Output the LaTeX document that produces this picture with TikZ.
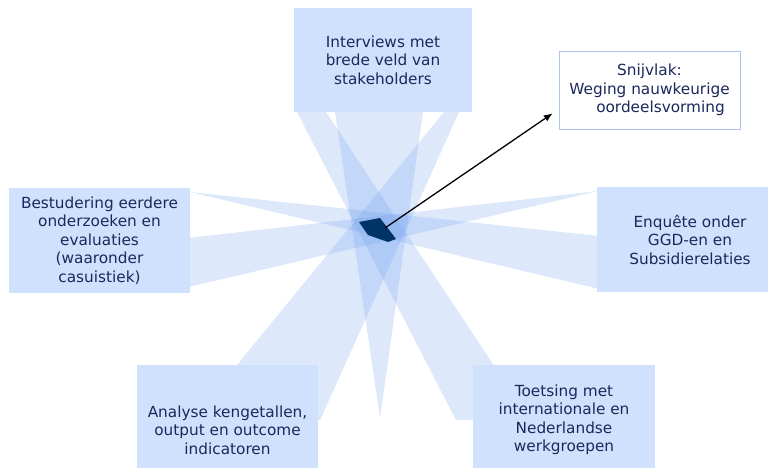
\documentclass[tikz,border=0pt]{standalone}
\usepackage{fontspec}
\setmainfont{DejaVu Sans}
\usetikzlibrary{arrows.meta}
\definecolor{vakblauw}{RGB}{207,225,252}
\definecolor{randblauw}{RGB}{170,198,240}
\definecolor{straalblauw}{RGB}{115,162,240}
\definecolor{tekstblauw}{RGB}{28,40,92}
\definecolor{kernblauw}{RGB}{0,51,102}

\begin{document}
\begin{tikzpicture}[x=1pt, y=-1pt,
    vak/.style={fill=vakblauw, text=tekstblauw, align=center, inner sep=0pt,
        font=\fontsize{15.3}{18.5}\selectfont},
    straal/.style={fill=straalblauw, fill opacity=0.24}]
    \useasboundingbox (0,0) rectangle (768,467);
    \clip (0,0) rectangle (768,467);
    \fill[white] (0,0) rectangle (768,467);
    \fill[straal] (335,112) -- (423,112) -- (380,418) -- cycle;
    \fill[straal] (180,239) -- (180,289) -- (598,191) -- cycle;
    \fill[straal] (608,237) -- (608,291) -- (190,192) -- cycle;
    \fill[straal] (444,112) -- (459,112) -- (320,420) -- (192,420) -- cycle;
    \fill[straal] (297,112) -- (326,112) -- (530,420) -- (456,420) -- cycle;
    \node[vak, minimum width=178, minimum height=104] (interviews) at (383,60) {Interviews met\\brede veld van\\stakeholders};
    \node[vak, minimum width=181, minimum height=105] (bestudering) at (99.5,240.5) {Bestudering eerdere\\onderzoeken en\\evaluaties\\(waaronder\\casuistiek)};
    \node[vak, minimum width=186, minimum height=105] (enquete) at (690,239.5) {Enquête onder\\GGD-en en\\Subsidierelaties};
    \node[vak, minimum width=181, minimum height=130] (analyse) at (227.5,430) {Analyse kengetallen,\\output en outcome\\indicatoren};
    \node[vak, minimum width=182, minimum height=110] (toetsing) at (564,420) {Toetsing met\\internationale en\\Nederlandse\\werkgroepen};
    \node[vak, fill=white, draw=randblauw, minimum width=181, minimum height=78] (snijvlak) at (649.5,90) {Snijvlak:\\Weging nauwkeurige\\\hspace*{22pt}oordeelsvorming};
    \fill[kernblauw] (359,222) -- (380,218) -- (396,239) -- (388,242) -- (368,235) -- cycle;
    \coordinate (kern) at (385,228);
    \draw[line width=1.3pt, -{Latex[length=9pt, width=7pt]}] (kern) -- ([xshift=-6pt, yshift=16pt]snijvlak.south west);
\end{tikzpicture}
\end{document}
